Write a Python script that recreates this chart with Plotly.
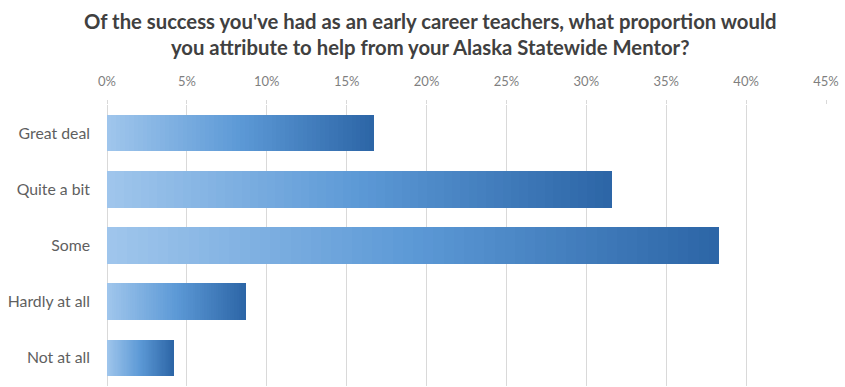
import plotly.graph_objects as go

# Survey responses (share of early career teachers)
categories = ["Great deal", "Quite a bit", "Some", "Hardly at all", "Not at all"]
shares = [16.7, 31.6, 38.3, 8.7, 4.2]
tick_values = [0, 5, 10, 15, 20, 25, 30, 35, 40, 45]
tick_labels = ["0%", "5%", "10%", "15%", "20%", "25%", "30%", "35%", "40%", "45%"]

title_text = ("Of the success you've had as an early career teachers, what proportion would<br>"
              "you attribute to help from your Alaska Statewide Mentor?")

# Each bar is filled with a left-to-right gradient, built from thin stacked slices
N_SLICES = 60
stops = [(0.0, (160, 198, 236)), (0.5, (92, 153, 214)), (1.0, (44, 101, 166))]


def gradient_color(t):
    for (t0, c0), (t1, c1) in zip(stops[:-1], stops[1:]):
        if t <= t1:
            f = (t - t0) / (t1 - t0)
            rgb = [round(a + (b - a) * f) for a, b in zip(c0, c1)]
            return "rgb({},{},{})".format(*rgb)
    return "rgb({},{},{})".format(*stops[-1][1])


fig = go.Figure()
for i in range(N_SLICES):
    fig.add_trace(go.Bar(
        y=categories,
        x=[v / N_SLICES for v in shares],
        orientation="h",
        marker=dict(color=gradient_color((i + 0.5) / N_SLICES), line=dict(width=0)),
        width=0.65,
        showlegend=False,
        hoverinfo="skip",
    ))

W, H = 845, 387
M_L, M_R, M_T, M_B = 107, 19, 105, 1
plot_w = W - M_L - M_R
plot_h = H - M_T - M_B

# Two-line heading placed as an annotation above the top axis
fig.add_annotation(
    text=title_text,
    xref="paper",
    yref="paper",
    x=(430 - M_L) / plot_w,
    y=(H - M_B - 7) / plot_h,
    xanchor="center",
    yanchor="top",
    showarrow=False,
    align="center",
    font=dict(family="Lato", size=20.3, color="#404040", weight="bold"),
)

fig.update_layout(
    barmode="stack",
    bargap=0,
    width=W,
    height=H,
    margin=dict(l=M_L, r=M_R, t=M_T, b=M_B),
    paper_bgcolor="white",
    plot_bgcolor="white",
    font=dict(family="Lato", color="#595959"),
    xaxis=dict(
        side="top",
        range=[0, 45],
        tickvals=tick_values,
        ticktext=tick_labels,
        showgrid=True,
        gridcolor="#d9d9d9",
        gridwidth=1,
        zeroline=True,
        zerolinecolor="#d9d9d9",
        zerolinewidth=1,
        ticks="outside",
        ticklen=4,
        tickcolor="#d9d9d9",
        showline=False,
        tickfont=dict(family="Lato", size=13, color="#7f7f7f"),
        ticklabelstandoff=9,
        fixedrange=True,
    ),
    yaxis=dict(
        categoryorder="array",
        categoryarray=categories,
        autorange="reversed",
        showgrid=False,
        zeroline=False,
        showline=False,
        ticks="",
        ticklabelstandoff=16,
        tickfont=dict(family="Lato", size=15.8, color="#5f5f5f"),
        fixedrange=True,
    ),
)

fig.write_html("out.html")
